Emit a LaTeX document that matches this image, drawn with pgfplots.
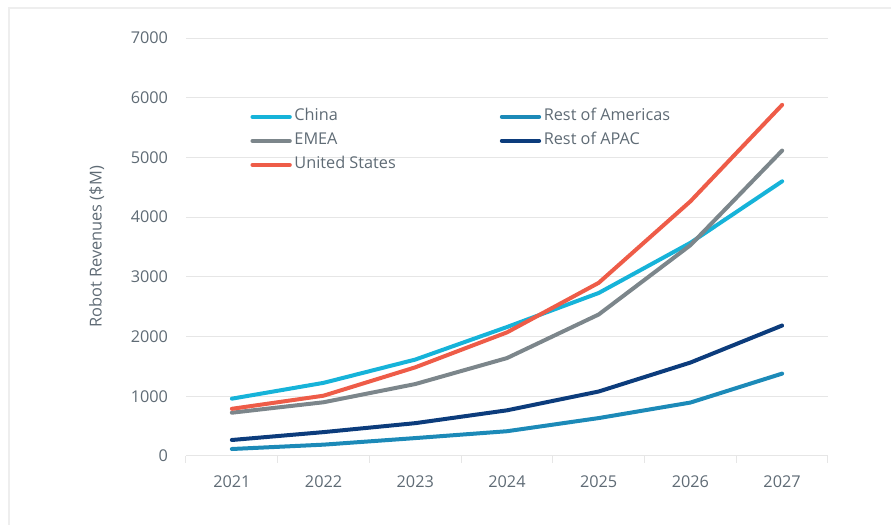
\documentclass[border=0pt]{standalone}
\usepackage{pgfplots}
\pgfplotsset{compat=1.18}
\usepackage{fontspec}
\setmainfont{Open Sans}

\definecolor{cChina}{HTML}{16B3D9}
\definecolor{cRoA}{HTML}{1C8AB8}
\definecolor{cEMEA}{HTML}{7C868B}
\definecolor{cAPAC}{HTML}{0C3C7C}
\definecolor{cUS}{HTML}{EE5C48}
\definecolor{txtgray}{HTML}{5F6B75}
\definecolor{gridgray}{HTML}{E6E6E6}
\definecolor{framegray}{HTML}{EEEEEE}

\begin{document}
\begin{tikzpicture}
\path[use as bounding box] (-139.5pt,-51pt) rectangle (528.75pt,342pt);
\draw[framegray, line width=1.5pt] (-132.75pt,-80pt) -- (-132.75pt,336pt) -- (560pt,336pt);
\begin{axis}[
  at={(0,0)}, anchor=south west,
  scale only axis, width=481.5pt, height=313.5pt,
  xmin=2020.5, xmax=2027.5,
  ymin=0, ymax=7000,
  xtick={2021,...,2027},
  minor xtick={2020.5,2021.5,...,2027.5},
  ytick={0,1000,...,7000},
  major tick length=0pt,
  minor tick length=5pt,
  tick align=outside,
  minor tick style={gridgray, line width=0.75pt},
  axis x line*=bottom, axis y line*=left,
  x axis line style={gridgray, line width=0.75pt, -},
  y axis line style={draw=none},
  ymajorgrids, major grid style={gridgray, line width=0.75pt},
  /pgf/number format/assume math mode=true,
  /pgf/number format/set thousands separator={},
  tick label style={font=\fontsize{12.2}{14}\selectfont, text=txtgray},
  xticklabel style={yshift=-11pt},
  yticklabel style={xshift=-10pt},
  ylabel={Robot Revenues (\$M)},
  every axis y label/.style={at={(axis description cs:-0.139,0.5)}, rotate=90, anchor=center,
    font=\fontsize{12.3}{14}\selectfont, text=txtgray},
  legend columns=2,
  legend cell align=left,
  legend style={draw=none, fill=none, at={(0.1,0.8375)}, anchor=north west,
    font=\fontsize{12.2}{14}\selectfont, text=txtgray, row sep=2pt,
    nodes={text height=9pt, text depth=3pt},
    /tikz/column 2/.style={column sep=76pt},
    inner sep=0pt},
  legend image code/.code={\draw[#1, line width=3pt, line cap=round] (0pt,0pt) -- (28pt,0pt);},
  every axis plot/.append style={line width=3pt, line join=round, line cap=round},
  clip=false,
]
\addplot[cChina] coordinates {(2021,960) (2022,1225) (2023,1615) (2024,2160) (2025,2730) (2026,3570) (2027,4600)};
\addlegendentry{China}
\addplot[cRoA] coordinates {(2021,117) (2022,190) (2023,300) (2024,415) (2025,635) (2026,895) (2027,1380)};
\addlegendentry{Rest of Americas}
\addplot[cEMEA] coordinates {(2021,725) (2022,900) (2023,1205) (2024,1640) (2025,2370) (2026,3530) (2027,5115)};
\addlegendentry{EMEA}
\addplot[cAPAC] coordinates {(2021,268) (2022,400) (2023,550) (2024,765) (2025,1080) (2026,1565) (2027,2185)};
\addlegendentry{Rest of APAC}
\addplot[cUS] coordinates {(2021,790) (2022,1010) (2023,1485) (2024,2070) (2025,2900) (2026,4265) (2027,5880)};
\addlegendentry{United States}
\end{axis}
\end{tikzpicture}
\end{document}
